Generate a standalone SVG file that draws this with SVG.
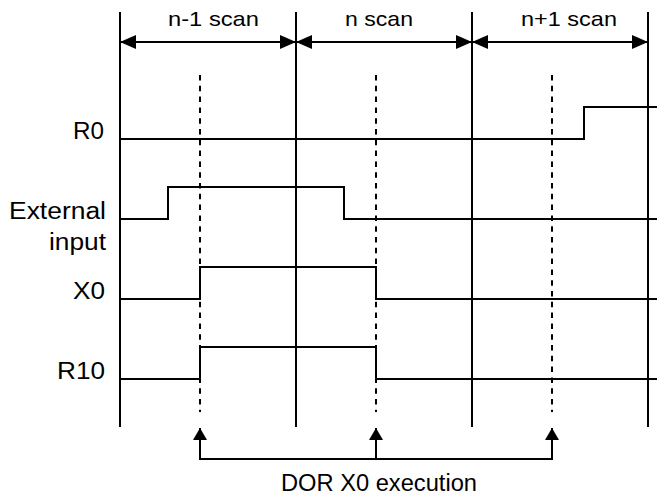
<svg xmlns="http://www.w3.org/2000/svg" width="657" height="499" viewBox="0 0 657 499">
<style>
  text { font-family: "Liberation Sans", Arial, sans-serif; font-size: 23px; fill: #000; }
  .scan { font-size: 21px; }
  .solid { stroke: #000; stroke-width: 2; fill: none; }
  .dash { stroke: #000; stroke-width: 2; fill: none; stroke-dasharray: 5.5 5.3; }
  .sig { stroke: #000; stroke-width: 2; fill: none; }
</style>
<defs>
  <marker id="ah" viewBox="0 0 16 14" refX="16" refY="7" markerWidth="16" markerHeight="14" markerUnits="userSpaceOnUse" orient="auto-start-reverse">
    <path d="M0,0 L16,7 L0,14 z" fill="#000"/>
  </marker>
  <marker id="au" viewBox="0 0 12 14" refX="12" refY="7" markerWidth="12" markerHeight="14" markerUnits="userSpaceOnUse" orient="auto">
    <path d="M0,0 L12,7 L0,14 z" fill="#000"/>
  </marker>
</defs>
<g id="grid">
  <line class="solid" x1="120" y1="12" x2="120" y2="427"/>
  <line class="solid" x1="296" y1="12" x2="296" y2="427"/>
  <line class="solid" x1="472" y1="12" x2="472" y2="427"/>
  <line class="solid" x1="648" y1="12" x2="648" y2="427"/>
  <line class="dash" x1="200" y1="75" x2="200" y2="412"/>
  <line class="dash" x1="376" y1="75" x2="376" y2="412"/>
  <line class="dash" x1="552" y1="75" x2="552" y2="412"/>
</g>
<g id="scan-labels">
  <text class="scan" x="168" y="26" textLength="91" lengthAdjust="spacingAndGlyphs">n-1 scan</text>
  <text class="scan" x="345" y="26" textLength="68" lengthAdjust="spacingAndGlyphs">n scan</text>
  <text class="scan" x="521" y="26" textLength="96" lengthAdjust="spacingAndGlyphs">n+1 scan</text>
</g>
<g id="signal-labels">
  <text x="73" y="139" textLength="31" lengthAdjust="spacingAndGlyphs">R0</text>
  <text x="9" y="219" textLength="97" lengthAdjust="spacingAndGlyphs">External</text>
  <text x="49" y="250" textLength="57" lengthAdjust="spacingAndGlyphs">input</text>
  <text x="73" y="299" textLength="32" lengthAdjust="spacingAndGlyphs">X0</text>
  <text x="57" y="379" textLength="48" lengthAdjust="spacingAndGlyphs">R10</text>
</g>
<g id="signals">
  <polyline id="sig-R0" class="sig" points="120,139 584,139 584,107 657,107"/>
  <polyline id="sig-ext" class="sig" points="120,219 168,219 168,187 344,187 344,219 657,219"/>
  <polyline id="sig-X0" class="sig" points="120,299 200,299 200,267 376,267 376,299 657,299"/>
  <polyline id="sig-R10" class="sig" points="120,379 200,379 200,347 376,347 376,379 657,379"/>
</g>
<g id="connectors">
  <line class="solid" x1="120" y1="42" x2="296" y2="42" marker-start="url(#ah)" marker-end="url(#ah)"/>
  <line class="solid" x1="296" y1="42" x2="472" y2="42" marker-start="url(#ah)" marker-end="url(#ah)"/>
  <line class="solid" x1="472" y1="42" x2="648" y2="42" marker-start="url(#ah)" marker-end="url(#ah)"/>
  <polyline class="solid" points="200,428 200,459 552,459 552,428"/>
  <line class="solid" x1="200" y1="459" x2="200" y2="428" marker-end="url(#au)"/>
  <line class="solid" x1="376" y1="459" x2="376" y2="428" marker-end="url(#au)"/>
  <line class="solid" x1="552" y1="459" x2="552" y2="428" marker-end="url(#au)"/>
</g>
<g id="caption">
  <text x="281" y="491" textLength="196" lengthAdjust="spacingAndGlyphs">DOR X0 execution</text>
</g>
</svg>
